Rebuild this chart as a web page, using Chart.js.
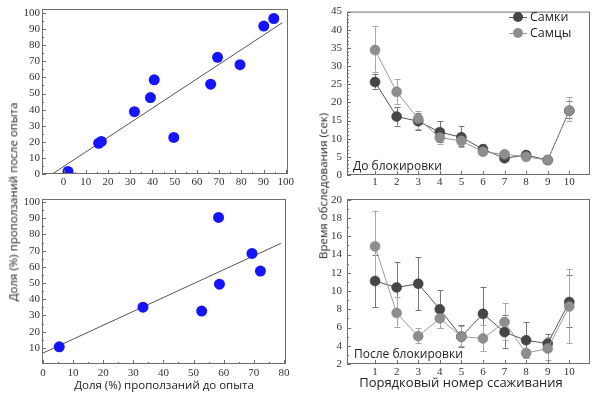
<!DOCTYPE html>
<html>
<head>
<meta charset="utf-8">
<script src="https://cdn.jsdelivr.net/npm/chart.js@4.4.0/dist/chart.umd.min.js"></script>
<style>
    body { margin: 0; background: #fff; }
    #wrap { position: relative; width: 600px; height: 394px; overflow: hidden; font-family: 'Open Sans', sans-serif; color: #222; }
    #wrap canvas { position: absolute; left: 0; top: 0; }
    .t { position: absolute; white-space: nowrap; transform: translate(-50%, -50%); line-height: 1; }
    .v { transform: translate(-50%, -50%) rotate(-90deg); }
    .lab { position: absolute; white-space: nowrap; line-height: 1; transform: translateY(-50%); }
    .key { position: absolute; width: 18px; height: 10px; transform: translate(-50%, -50%); }
    .key .ln { position: absolute; left: 0; top: 4.5px; width: 18px; height: 1px; }
    .key .dot { position: absolute; left: 4px; top: 0; width: 10px; height: 10px; border-radius: 50%; }
</style>
</head>
<body>
<div id="wrap">
    <canvas id="tl" width="600" height="394"></canvas>
    <canvas id="bl" width="600" height="394"></canvas>
    <canvas id="tr" width="600" height="394"></canvas>
    <canvas id="br" width="600" height="394"></canvas>

    <div class="t v" style="left:13px; top:202px; font-size:11.5px;">Доля (%) проползаний после опыта</div>
    <div class="t" style="left:164px; top:385px; font-size:11.5px;">Доля (%) проползаний до опыта</div>
    <div class="t v" style="left:323px; top:186px; font-size:11.5px;">Время обследования (сек)</div>
    <div class="t" style="left:461px; top:382px; font-size:13px;">Порядковый номер ссаживания</div>

    <div class="lab" style="left:353px; top:166px; font-size:12px;">До блокировки</div>
    <div class="lab" style="left:354px; top:354px; font-size:12px;">После блокировки</div>

    <div class="key" style="left:518px; top:17px;"><div class="ln" style="background:#555;"></div><div class="dot" style="background:#464646;"></div></div>
    <div class="lab" style="left:530px; top:17px; font-size:12.5px;">Самки</div>
    <div class="key" style="left:518px; top:33px;"><div class="ln" style="background:#999;"></div><div class="dot" style="background:#8e8e8e;"></div></div>
    <div class="lab" style="left:530px; top:33px; font-size:12.5px;">Самцы</div>
</div>

<script>
// scatter panels: share of crawl-overs before vs after (%)
const tlBefore = [2.0, 15.8, 17.0, 31.9, 39.1, 40.8, 49.6, 66.2, 69.3, 79.4, 90.1, 94.6];
const tlAfter = [1.6, 19.1, 20.2, 38.7, 47.5, 58.5, 22.7, 55.8, 72.5, 67.9, 91.9, 96.6];
const tlFitX = [-5.1, 98.5];
const tlFitY = [0, 94];
const tlXTicks = [0, 10, 20, 30, 40, 50, 60, 70, 80, 90, 100];
const tlYTicks = [0, 10, 20, 30, 40, 50, 60, 70, 80, 90, 100];

const blBefore = [5.4, 33.2, 52.7, 58.3, 58.6, 69.4, 72.2];
const blAfter = [10.6, 35.1, 32.7, 90.5, 49.3, 68.3, 57.4];
const blFitX = [-0.1, 79];
const blFitY = [6.7, 74.5];
const blXTicks = [0, 10, 20, 30, 40, 50, 60, 70, 80];
const blYTicks = [10, 20, 30, 40, 50, 60, 70, 80, 90, 100];

// line panels: exploration time (s) per trial
const trials = [1, 2, 3, 4, 5, 6, 7, 8, 9, 10];

const preFemale = [25.6, 16.1, 14.8, 11.8, 10.4, 7.1, 4.6, 5.5, 4.1, 17.7];
const preFemaleLo = [23.8, 13.6, 12.3, 9.2, 8.0, 6.0, 4.0, 4.8, 3.7, 15.8];
const preFemaleHi = [27.9, 18.6, 17.2, 14.8, 13.4, 8.3, 5.3, 6.2, 4.5, 20.5];
const preMale = [34.4, 22.9, 15.5, 10.3, 9.4, 6.4, 5.7, 5.0, 4.1, 17.7];
const preMaleLo = [28.5, 19.6, 12.6, 8.6, 7.7, 5.7, 4.9, 4.3, 3.7, 15.0];
const preMaleHi = [40.9, 26.4, 17.5, 12.0, 11.0, 8.5, 6.6, 5.8, 4.6, 21.4];

const postFemale = [11.1, 10.4, 10.8, 8.0, 5.0, 7.5, 5.5, 4.6, 4.25, 8.8];
const postFemaleLo = [8.2, 7.7, 7.9, 5.9, 3.9, 4.6, 3.8, 2.8, 3.4, 6.1];
const postFemaleHi = [14.0, 13.2, 13.7, 10.1, 6.3, 10.5, 7.4, 6.6, 5.3, 11.8];
const postMale = [14.9, 7.6, 5.05, 7.0, 5.0, 4.8, 6.6, 3.2, 3.7, 8.3];
const postMaleLo = [11.0, 6.1, 4.3, 6.0, 4.0, 3.4, 4.6, 2.7, 2.4, 4.3];
const postMaleHi = [18.8, 9.4, 5.9, 8.0, 6.2, 6.3, 8.7, 3.7, 5.0, 12.4];

const trXTicks = [1, 2, 3, 4, 5, 6, 7, 8, 9, 10];
const trYTicks = [0, 5, 10, 15, 20, 25, 30, 35, 40, 45];
const brYTicks = [2, 4, 6, 8, 10, 12, 14, 16, 18, 20];

const zip = (xs, ys) => xs.map((x, i) => ({ x: x, y: ys[i] }));

// box around the plot + small inward tick marks
const frameTicks = {
    id: 'frameTicks',
    afterDatasetsDraw(chart, args, opts) {
        const ctx = chart.ctx;
        const a = chart.chartArea;
        const x = chart.scales.x, y = chart.scales.y;
        ctx.save();
        ctx.strokeStyle = '#6e6e6e';
        ctx.lineWidth = 1;
        ctx.strokeRect(a.left + 0.5, a.top + 0.5, a.right - a.left - 1, a.bottom - a.top - 1);

        ctx.beginPath();
        const xt = x.ticks.map(t => t.value);
        xt.forEach((v, i) => {
            const px = Math.round(x.getPixelForValue(v)) + 0.5;
            ctx.moveTo(px, a.bottom);
            ctx.lineTo(px, a.bottom - 4);
            if (opts.xMinor && i < xt.length - 1) {
                for (let k = 1; k <= opts.xMinor; k++) {
                    const m = v + (xt[i + 1] - v) * k / (opts.xMinor + 1);
                    const mx = Math.round(x.getPixelForValue(m)) + 0.5;
                    ctx.moveTo(mx, a.bottom);
                    ctx.lineTo(mx, a.bottom - 2);
                }
            }
        });
        const yt = y.ticks.map(t => t.value);
        yt.forEach((v, i) => {
            const py = Math.round(y.getPixelForValue(v)) + 0.5;
            ctx.moveTo(a.left, py);
            ctx.lineTo(a.left + 4, py);
            if (opts.yMinor && i < yt.length - 1) {
                for (let k = 1; k <= opts.yMinor; k++) {
                    const m = v + (yt[i + 1] - v) * k / (opts.yMinor + 1);
                    const my = Math.round(y.getPixelForValue(m)) + 0.5;
                    ctx.moveTo(a.left, my);
                    ctx.lineTo(a.left + 2, my);
                }
            }
        });
        ctx.stroke();
        ctx.restore();
    }
};

// vertical error bars with caps, drawn under the markers
const errorBars = {
    id: 'errorBars',
    beforeDatasetsDraw(chart) {
        const ctx = chart.ctx;
        const x = chart.scales.x, y = chart.scales.y;
        ctx.save();
        ctx.lineWidth = 1;
        chart.data.datasets.forEach(ds => {
            if (!ds.errLo) return;
            ctx.strokeStyle = ds.errColor;
            ctx.beginPath();
            ds.data.forEach((p, i) => {
                const px = Math.round(x.getPixelForValue(p.x)) + 0.5;
                const y1 = y.getPixelForValue(ds.errLo[i]);
                const y2 = y.getPixelForValue(ds.errHi[i]);
                ctx.moveTo(px, y1); ctx.lineTo(px, y2);
                ctx.moveTo(px - 3, Math.round(y1) + 0.5); ctx.lineTo(px + 3, Math.round(y1) + 0.5);
                ctx.moveTo(px - 3, Math.round(y2) + 0.5); ctx.lineTo(px + 3, Math.round(y2) + 0.5);
            });
            ctx.stroke();
        });
        ctx.restore();
    }
};

const tickFont = { family: "'Liberation Serif', serif", size: 11 };

function makePanel(id, area, xr, yr, xTicks, yTicks, datasets, minor, xPad, yPad) {
    const yW = 30, xH = 20;
    return new Chart(document.getElementById(id), {
        type: 'scatter',
        data: { datasets: datasets },
        plugins: [errorBars, frameTicks],
        options: {
            responsive: false,
            animation: false,
            layout: {
                padding: { left: area.L - yW, top: area.T, right: 600 - area.R, bottom: 394 - area.B - xH }
            },
            plugins: {
                legend: { display: false },
                tooltip: { enabled: false },
                frameTicks: minor
            },
            scales: {
                x: {
                    type: 'linear', min: xr[0], max: xr[1],
                    grid: { display: false, drawTicks: false },
                    border: { display: false },
                    ticks: { font: tickFont, color: '#333', padding: xPad, maxRotation: 0 },
                    afterBuildTicks: s => { s.ticks = xTicks.map(v => ({ value: v })); },
                    afterFit: s => { s.height = xH; }
                },
                y: {
                    type: 'linear', min: yr[0], max: yr[1],
                    grid: { display: false, drawTicks: false },
                    border: { display: false },
                    ticks: { font: tickFont, color: '#333', padding: yPad },
                    afterBuildTicks: s => { s.ticks = yTicks.map(v => ({ value: v })); },
                    afterFit: s => { s.width = yW; }
                }
            }
        }
    });
}

function scatterSets(xs, ys, fx, fy) {
    return [
        { data: zip(xs, ys), backgroundColor: '#1414ff', borderWidth: 0, pointRadius: 5.5, order: 0 },
        { data: zip(fx, fy), showLine: true, borderColor: '#555', borderWidth: 1, pointRadius: 0, order: 1 }
    ];
}

function seriesSets(f, fLo, fHi, m, mLo, mHi) {
    return [
        { data: zip(trials, f), showLine: true, borderColor: '#555', borderWidth: 1,
          backgroundColor: '#464646', pointBorderColor: '#3a3a3a', pointBorderWidth: 0.5, pointRadius: 5,
          errLo: fLo, errHi: fHi, errColor: '#777', order: 1 },
        { data: zip(trials, m), showLine: true, borderColor: '#9a9a9a', borderWidth: 1,
          backgroundColor: '#8e8e8e', pointBorderColor: '#828282', pointBorderWidth: 0.5, pointRadius: 5,
          errLo: mLo, errHi: mHi, errColor: '#a8a8a8', order: 0 }
    ];
}

makePanel('tl', { L: 42, T: 9, R: 288, B: 174 }, [-9.7, 101], [0, 102.5], tlXTicks, tlYTicks,
    scatterSets(tlBefore, tlAfter, tlFitX, tlFitY), { xMinor: 1, yMinor: 1 }, 2, 2);

makePanel('bl', { L: 42, T: 199, R: 286, B: 364 }, [-0.33, 80.7], [0, 101.9], blXTicks, blYTicks,
    scatterSets(blBefore, blAfter, blFitX, blFitY), { xMinor: 1, yMinor: 1 }, 2.5, 2);

makePanel('tr', { L: 347, T: 10, R: 590, B: 175 }, [-0.3, 10.96], [0, 45], trXTicks, trYTicks,
    seriesSets(preFemale, preFemaleLo, preFemaleHi, preMale, preMaleLo, preMaleHi), { xMinor: 0, yMinor: 4 }, 1, 5);

makePanel('br', { L: 347, T: 199, R: 590, B: 364 }, [-0.3, 10.96], [2, 20.1], trXTicks, brYTicks,
    seriesSets(postFemale, postFemaleLo, postFemaleHi, postMale, postMaleLo, postMaleHi), { xMinor: 0, yMinor: 1 }, 2, 5);
</script>
</body>
</html>
